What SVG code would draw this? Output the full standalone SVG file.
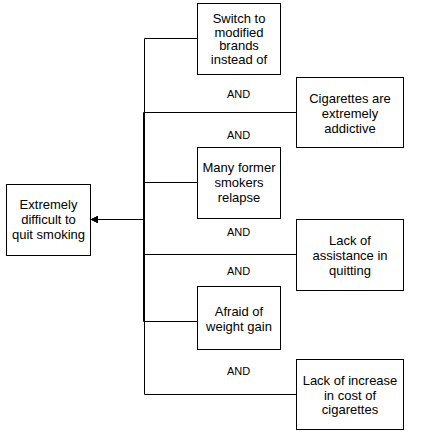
<svg xmlns="http://www.w3.org/2000/svg" width="426" height="434" viewBox="0 0 426 434">
<style>
.box{fill:#fff;stroke:#000;stroke-width:1}
.t{font-family:"Liberation Sans",Arial,sans-serif;font-size:13px;fill:#000;text-anchor:middle}
.and{font-family:"Liberation Sans",Arial,sans-serif;font-size:11px;fill:#000;text-anchor:middle}
.c{fill:none;stroke:#000;stroke-width:1}
</style>
<defs>
<marker id="ah" markerWidth="8" markerHeight="8" refX="7" refY="3.5" orient="auto" markerUnits="userSpaceOnUse">
<path d="M0,0 L7,3.5 L0,7 Z" fill="#000"/>
</marker>
</defs>
<rect width="426" height="434" fill="#fff"/>
<g id="connectors">
<path class="c" d="M197.5,38.5 H144.5 V219.5 H91" marker-end="url(#ah)"/>
<path class="c" d="M296.5,112.5 H143.5 V219.5 H91" marker-end="url(#ah)"/>
<path class="c" d="M197.5,182.5 H143.5 V219.5 H91" marker-end="url(#ah)"/>
<path class="c" d="M296.5,254.5 H143.5 V219.5 H91" marker-end="url(#ah)"/>
<path class="c" d="M197.5,321.5 H143.5 V219.5 H91" marker-end="url(#ah)"/>
<path class="c" d="M296.5,394.5 H144.5 V219.5 H91" marker-end="url(#ah)"/>
</g>
<g id="goal">
<rect class="box" x="6.5" y="184.5" width="84" height="71"/>
<text class="t" x="48.5" y="209">Extremely</text>
<text class="t" x="48.5" y="224">difficult to</text>
<text class="t" x="48.5" y="239">quit smoking</text>
</g>
<g id="switch">
<rect class="box" x="197.5" y="3.5" width="83" height="71"/>
<text class="t" x="239" y="22.5">Switch to</text>
<text class="t" x="239" y="36.5">modified</text>
<text class="t" x="239" y="50">brands</text>
<text class="t" x="239" y="64">instead of</text>
</g>
<g id="addictive">
<rect class="box" x="296.5" y="77.5" width="107" height="70"/>
<text class="t" x="350" y="102.5">Cigarettes are</text>
<text class="t" x="350" y="117.5">extremely</text>
<text class="t" x="350" y="132.5">addictive</text>
</g>
<g id="relapse">
<rect class="box" x="197.5" y="147.5" width="83" height="71"/>
<text class="t" x="239" y="171.5">Many former</text>
<text class="t" x="239" y="186.5">smokers</text>
<text class="t" x="239" y="201.5">relapse</text>
</g>
<g id="assistance">
<rect class="box" x="296.5" y="219.5" width="107" height="71"/>
<text class="t" x="350" y="244.5">Lack of</text>
<text class="t" x="350" y="259.5">assistance in</text>
<text class="t" x="350" y="274.5">quitting</text>
</g>
<g id="weight">
<rect class="box" x="197.5" y="286.5" width="83" height="63"/>
<text class="t" x="239" y="316">Afraid of</text>
<text class="t" x="239" y="330.5">weight gain</text>
</g>
<g id="cost">
<rect class="box" x="296.5" y="359.5" width="107" height="70"/>
<text class="t" x="350" y="384.5">Lack of increase</text>
<text class="t" x="350" y="399.5">in cost of</text>
<text class="t" x="350" y="414">cigarettes</text>
</g>
<g id="and-labels">
<text class="and" x="238.5" y="98">AND</text>
<text class="and" x="238.5" y="139">AND</text>
<text class="and" x="238.5" y="235.5">AND</text>
<text class="and" x="238.5" y="275">AND</text>
<text class="and" x="238.5" y="375">AND</text>
</g>
</svg>
